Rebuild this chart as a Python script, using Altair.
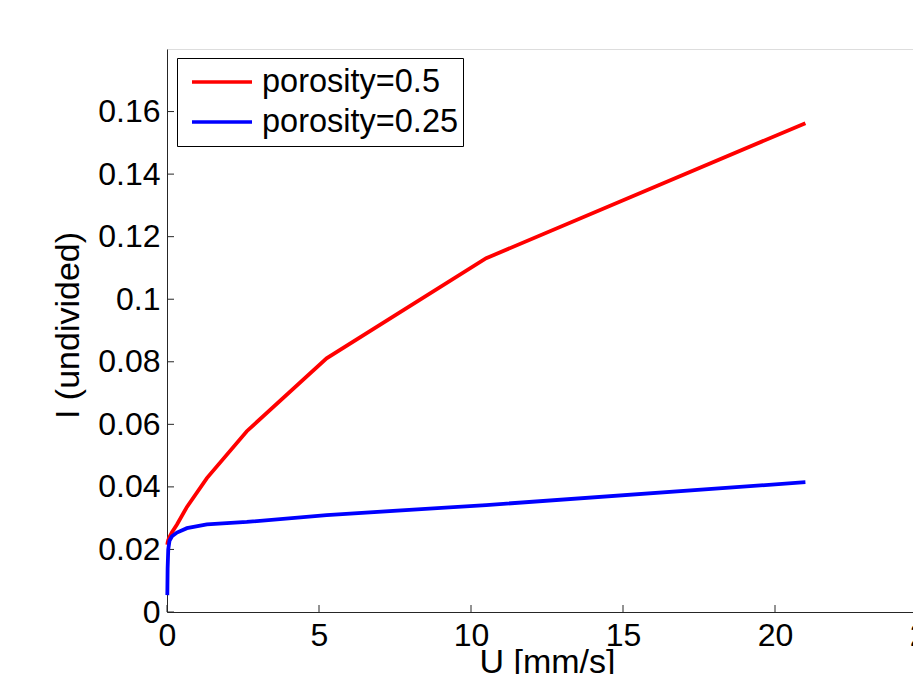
import altair as alt
import pandas as pd

# ---- data ----
U = [0.01025, 0.0205, 0.041, 0.082, 0.164, 0.328, 0.65625, 1.3125, 2.625, 5.25, 10.5, 21.0]
I_05 = [0.0215, 0.0222, 0.0230, 0.0240, 0.0255, 0.0280, 0.0336, 0.0428, 0.0578, 0.0811, 0.1131, 0.1563]
I_025 = [0.0054, 0.0140, 0.0200, 0.0228, 0.0242, 0.0254, 0.0268, 0.0280, 0.0288, 0.0310, 0.0342, 0.0415]
series_names = ["porosity=0.5", "porosity=0.25"]
series_colors = ["#ff0000", "#0000ff"]
x_ticks = [0, 5, 10, 15, 20, 25]
y_ticks = [0, 0.02, 0.04, 0.06, 0.08, 0.10, 0.12, 0.14, 0.16]

rows = []
for name, vals in zip(series_names, [I_05, I_025]):
    for u, v in zip(U, vals):
        rows.append({"U": u, "I": v, "series": name})
df = pd.DataFrame(rows)

FONT = "Liberation Sans"
AXC = "#262626"
PW, PH = 746, 563

xscale = alt.Scale(domain=[0, 25], range=[0, 760], nice=False, zero=False)
yscale = alt.Scale(domain=[0, 0.18], nice=False, zero=False)

color = alt.Color(
    "series:N",
    scale=alt.Scale(domain=series_names, range=series_colors),
    legend=alt.Legend(
        title=None, orient="none", legendX=10, legendY=9,
        symbolType="stroke", symbolSize=3600, symbolStrokeWidth=3.5,
        symbolOffset=9, clipHeight=40,
        labelFontSize=32.5, labelFont=FONT, labelColor="black", labelLimit=400,
        labelOffset=8, strokeColor="black", fillColor="white",
        padding=4, rowPadding=0,
    ),
)

xaxis = alt.Axis(
    values=x_ticks, format="d", grid=False, ticks=False, tickSize=0,
    labelPadding=8, labelFontSize=32, labelFont=FONT, labelColor="black",
    labelFlush=False, labelOverlap=False,
    title="U [mm/s]", titleFontSize=34, titleFont=FONT, titleFontWeight="normal",
    titleColor="black", titleBaseline="alphabetic", titleY=60,
    domainColor=AXC, domainWidth=1,
)
yaxis = alt.Axis(
    values=y_ticks, format=".2~f", grid=False, ticks=False, tickSize=0,
    labelPadding=7, labelFontSize=32, labelFont=FONT, labelColor="black",
    labelOverlap=False,
    title="I (undivided)", titleFontSize=34, titleFont=FONT, titleFontWeight="normal",
    titleColor="black", titleX=-82, titleY=276, domainColor=AXC, domainWidth=1,
)

base = alt.Chart(df)
lines = [
    base.transform_filter(alt.datum.series == name).mark_line(strokeWidth=3.8).encode(
        x=alt.X("U:Q", scale=xscale, axis=xaxis),
        y=alt.Y("I:Q", scale=yscale, axis=yaxis),
        color=color,
    )
    for name in series_names
]

ytick_layer = alt.Chart(pd.DataFrame({"I": y_ticks})).mark_rule(color=AXC, strokeWidth=1).encode(
    y=alt.Y("I:Q", scale=yscale, axis=yaxis), x=alt.value(0), x2=alt.value(7)
)
xtick_layer = alt.Chart(pd.DataFrame({"U": x_ticks})).mark_rule(color=AXC, strokeWidth=1).encode(
    x=alt.X("U:Q", scale=xscale, axis=xaxis), y=alt.value(PH), y2=alt.value(PH - 7)
)

chart = alt.layer(ytick_layer, xtick_layer, *lines).properties(
    width=PW, height=PH,
    autosize=alt.AutoSizeParams(type="none"),
    padding={"left": 159, "top": 41, "right": 0, "bottom": 62},
).configure_view(stroke=None).configure(background="white")

chart.save("out.html", embed_options={"renderer": "svg", "actions": False})
